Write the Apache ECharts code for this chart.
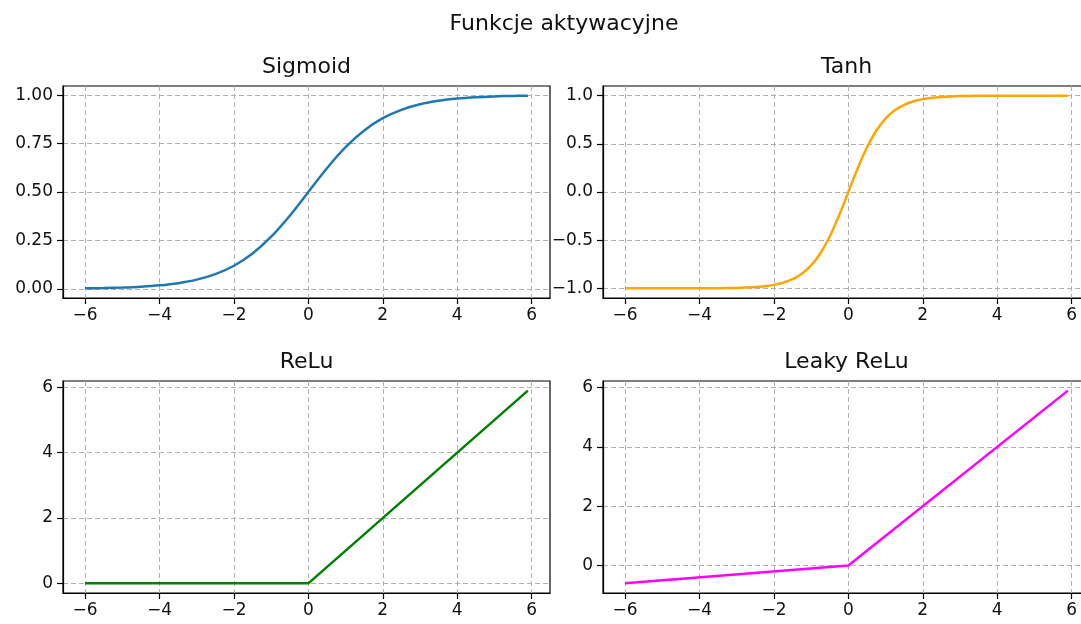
<!DOCTYPE html>
<html>
<head>
<meta charset="utf-8">
<script src="https://cdn.jsdelivr.net/npm/echarts@6/dist/echarts.min.js"></script>
<style>html,body{margin:0;padding:0;background:#fff;overflow:hidden}#c{width:1110px;height:624px}</style>
</head>
<body>
<div id="c"></div>
<script>
// ---- data ----
const suptitle = 'Funkcje aktywacyjne';
const titles = ['Sigmoid', 'Tanh', 'ReLu', 'Leaky ReLu'];
const colors = ['#1f77b4', '#ffa500', '#008000', '#ff00ff'];

const sigX = [-6,-5.5,-5,-4.5,-4,-3.5,-3,-2.5,-2,-1.5,-1,-0.5,0,0.5,1,1.5,2,2.5,3,3.5,4,4.5,5,5.5,5.9];
const sigY = [0.0025,0.0041,0.0067,0.0110,0.0180,0.0293,0.0474,0.0759,0.1192,0.1824,0.2689,0.3775,0.5,0.6225,0.7311,0.8176,0.8808,0.9241,0.9526,0.9707,0.9820,0.9890,0.9933,0.9959,0.9973];

const tanhX = [-6,-5.5,-5,-4.5,-4,-3.5,-3,-2.75,-2.5,-2.25,-2,-1.75,-1.5,-1.25,-1,-0.75,-0.5,-0.25,0,0.25,0.5,0.75,1,1.25,1.5,1.75,2,2.25,2.5,2.75,3,3.5,4,4.5,5,5.5,5.9];
const tanhY = [-1.0,-1.0,-0.9999,-0.9998,-0.9993,-0.9982,-0.9951,-0.9918,-0.9866,-0.9780,-0.9640,-0.9414,-0.9051,-0.8483,-0.7616,-0.6351,-0.4621,-0.2449,0,0.2449,0.4621,0.6351,0.7616,0.8483,0.9051,0.9414,0.9640,0.9780,0.9866,0.9918,0.9951,0.9982,0.9993,0.9998,0.9999,1.0,1.0];

const reluX = [-6, 0, 5.9];
const reluY = [0, 0, 5.9];

const leakyX = [-6, 0, 5.9];
const leakyY = [-0.6, 0, 5.9];

const xTicks = [-6, -4, -2, 0, 2, 4, 6];
const sigTicks = [0, 0.25, 0.5, 0.75, 1];
const tanhTicks = [-1, -0.5, 0, 0.5, 1];
const reluTicks = [0, 2, 4, 6];
const leakyTicks = [0, 2, 4, 6];

// axis ranges (data range + 5% margin)
const xRange = [-6.595, 6.495];
const yRanges = [[-0.0473, 1.0470], [-1.1, 1.1], [-0.295, 6.195], [-0.925, 6.225]];
const yTicks = [sigTicks, tanhTicks, reluTicks, leakyTicks];
const yDigits = [2, 1, 0, 0];

const pairs = (xs, ys) => xs.map((x, i) => [x, ys[i]]);
const seriesData = [pairs(sigX, sigY), pairs(tanhX, tanhY), pairs(reluX, reluY), pairs(leakyX, leakyY)];
const smoothFlags = [true, true, false, false];

// ---- layout ----
const gridBoxes = [
  {left: 63, top: 86, width: 487, height: 212},
  {left: 603, top: 86, width: 487, height: 212},
  {left: 63, top: 381, width: 487, height: 212},
  {left: 603, top: 381, width: 487, height: 212}
];
const FONT = 'DejaVu Sans';
const minus = s => String(s).replace('-', '\u2212');
const gridLine = {show: true, lineStyle: {color: '#b0b0b0', width: 1, type: [5, 3]}};

const grids = gridBoxes.map(b => Object.assign({show: true, borderColor: '#000', borderWidth: 1.2, backgroundColor: 'transparent'}, b));

const xAxes = gridBoxes.map((b, i) => ({
  type: 'value', gridIndex: i, min: xRange[0], max: xRange[1],
  axisLine: {show: true, onZero: false, lineStyle: {color: '#000', width: 1.2}},
  axisTick: {show: true, length: 6, customValues: xTicks, lineStyle: {color: '#000', width: 1.2}},
  axisLabel: {customValues: xTicks, margin: 9, color: '#111', fontFamily: FONT, fontSize: 17, formatter: v => minus(v)},
  splitLine: gridLine
}));

const yAxes = gridBoxes.map((b, i) => ({
  type: 'value', gridIndex: i, min: yRanges[i][0], max: yRanges[i][1],
  axisLine: {show: true, onZero: false, lineStyle: {color: '#000', width: 1.2}},
  axisTick: {show: true, length: 6, customValues: yTicks[i], lineStyle: {color: '#000', width: 1.2}},
  axisLabel: {customValues: yTicks[i], margin: 10, color: '#111', fontFamily: FONT, fontSize: 17, formatter: v => minus(Number(v).toFixed(yDigits[i]))},
  splitLine: gridLine
}));

const series = seriesData.map((d, i) => ({
  type: 'line', xAxisIndex: i, yAxisIndex: i, data: d,
  showSymbol: false, smooth: smoothFlags[i] ? 0.35 : false,
  lineStyle: {color: colors[i], width: 2.5}, itemStyle: {color: colors[i]},
  silent: true, animation: false, clip: true
}));

const texts = [{text: suptitle, x: 564, y: 24}].concat(gridBoxes.map((b, i) => ({text: titles[i], x: b.left + b.width / 2, y: b.top - 18.5})));
const graphic = texts.map(t => ({
  type: 'text', x: t.x, y: t.y, silent: true,
  style: {text: t.text, fill: '#111', font: '22px "' + FONT + '"', align: 'center', verticalAlign: 'middle'}
}));

const chart = echarts.init(document.getElementById('c'), null, {renderer: 'canvas'});
chart.setOption({
  animation: false,
  backgroundColor: '#fff',
  grid: grids, xAxis: xAxes, yAxis: yAxes, series: series, graphic: graphic
});
</script>
</body>
</html>
